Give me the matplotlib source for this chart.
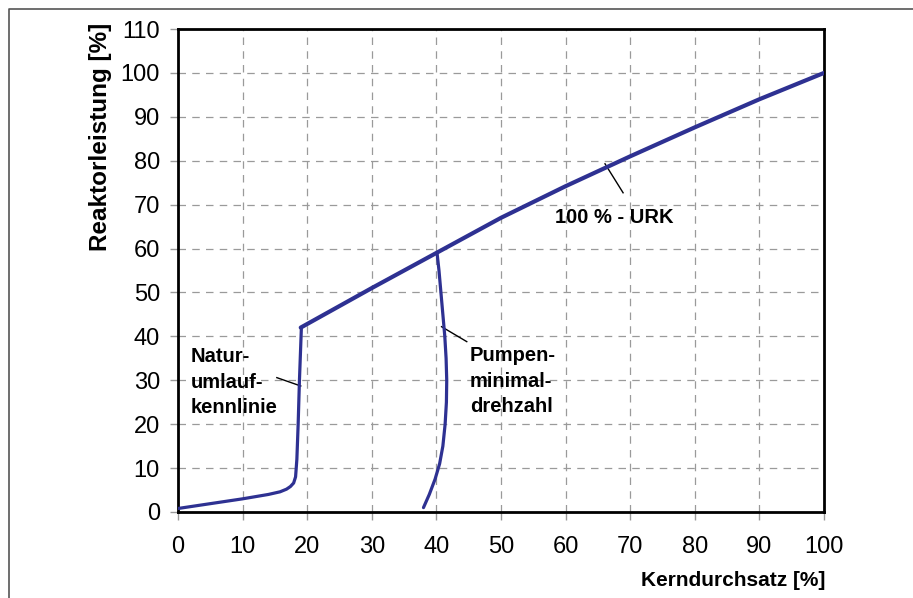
import matplotlib

matplotlib.use("Agg")
import matplotlib.pyplot as plt  # noqa: E402
from matplotlib.lines import Line2D  # noqa: E402

plt.rcParams["font.family"] = ["Liberation Sans", "DejaVu Sans"]

BLUE = "#2e3192"

# 100 % - URK (Nennkennlinie)
urk_x = [19, 30, 40, 45, 50, 60, 70, 80, 90, 100]
urk_y = [42, 51, 59, 63, 67, 74.2, 81, 87.6, 94, 100]

# Naturumlaufkennlinie
nat_x = [0, 5, 10, 14, 15.8, 16.8, 17.4, 17.9, 18.2, 18.4, 18.6, 18.8, 19.1]
nat_y = [0.8, 1.9, 3.0, 4.0, 4.6, 5.2, 5.8, 6.6, 8.0, 12, 20, 30, 42]

# Pumpenminimaldrehzahl
pmp_x = [38, 38.9, 39.8, 40.5, 41.0, 41.35, 41.55, 41.6, 41.5, 41.3, 41.0, 40.7, 40.4, 40.1]
pmp_y = [1, 4, 7.5, 11, 15, 20, 25, 30, 35, 40, 45, 50, 55, 59]

xticks = list(range(0, 101, 10))
yticks = list(range(0, 111, 10))


def main() -> None:
    fig = plt.figure(figsize=(9.13, 5.98), dpi=100)
    ax = fig.add_axes([178 / 913, 86 / 598, 646 / 913, 483 / 598])

    ax.plot(urk_x, urk_y, color=BLUE, lw=3.0, solid_capstyle="round", zorder=3)
    ax.plot(nat_x, nat_y, color=BLUE, lw=2.3, solid_capstyle="round", zorder=3)
    ax.plot(pmp_x, pmp_y, color=BLUE, lw=2.3, solid_capstyle="round", zorder=3)

    ax.set_xlim(0, 100)
    ax.set_ylim(0, 110)
    ax.set_xticks(xticks)
    ax.set_yticks(yticks)
    ax.grid(True, color="#9a9a9a", lw=0.9, ls=(0, (6, 5)))
    ax.set_axisbelow(True)
    ax.tick_params(direction="out", length=6, width=1, color="#9a9a9a",
                   labelsize=17, pad=7)
    ax.tick_params(axis="x", pad=11)
    for sp in ax.spines.values():
        sp.set_linewidth(2.0)
        sp.set_color("black")

    # Beschriftungen mit Hinweislinien
    txt = dict(fontsize=14.5, fontweight="bold", va="center", ha="left",
               linespacing=1.45, zorder=4)
    ax.text(58.4, 67.0, "100 % - URK", **txt)
    ax.plot([66.1, 68.9], [79.3, 72.7], color="black", lw=1.0)
    ax.text(2.0, 29.6, "Natur-\numlauf-\nkennlinie", **txt)
    ax.plot([15.3, 19.0], [30.6, 28.7], color="black", lw=1.0)
    ax.text(45.2, 29.8, "Pumpen-\nminimal-\ndrehzahl", **txt)
    ax.plot([40.8, 44.7], [42.2, 38.8], color="black", lw=1.0)

    fig.text(825 / 913, 1 - 580 / 598, "Kerndurchsatz [%]", fontsize=15,
             fontweight="bold", ha="right", va="center")
    fig.text(100 / 913, 1 - 23 / 598, "Reaktorleistung [%]", fontsize=17.5,
             fontweight="bold", ha="center", va="top", rotation=90)

    # Rahmen oben und links
    fig.add_artist(Line2D([9 / 913, 9 / 913, 1], [0, 1 - 9 / 598, 1 - 9 / 598],
                          transform=fig.transFigure, color="#555555", lw=1.2))

    fig.savefig("out.png", dpi=100)


if __name__ == "__main__":
    main()
